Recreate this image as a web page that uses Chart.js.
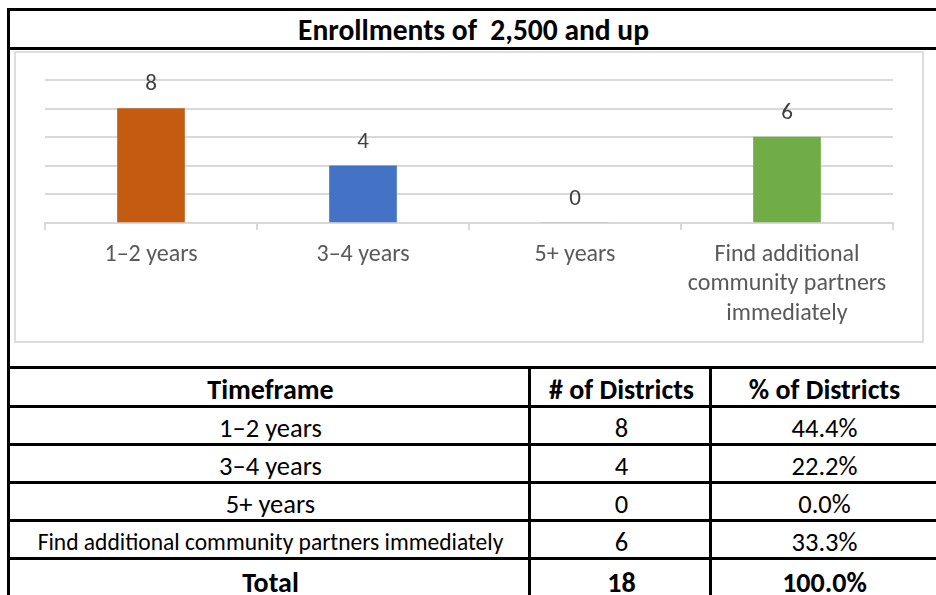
<!DOCTYPE html>
<html>
<head>
<meta charset="utf-8">
<script src="https://cdn.jsdelivr.net/npm/chart.js@4.4.0/dist/chart.umd.min.js"></script>
<style>
  body { margin: 0; width: 936px; height: 595px; overflow: hidden; background: #fff;
         font-family: Carlito, Calibri, Lato, sans-serif; }
  #frame { position: absolute; left: 7px; top: 8px; width: 927px; height: 600px;
           border-left: 3px solid #000; border-top: 3px solid #000; border-right: 3px solid #000; }
  #title { height: 36px; line-height: 38px; border-bottom: 3px solid #000; text-align: center;
           font-weight: bold; font-size: 29.5px; white-space: pre; }
  #chart-box { position: absolute; left: 14px; top: 51px; width: 906px; height: 288px;
               border: 2px solid #dedede; }
  .cell { position: absolute; box-sizing: border-box; border-top: 3px solid #000; border-left: 3px solid #000;
          display: flex; align-items: center; justify-content: center; font-size: 26.5px; color: #000;
          padding-top: 2px; white-space: nowrap; }
  .cell.last { border-right: 3px solid #000; }
  .bold { font-weight: bold; font-size: 28px; }
  .small { font-size: 23.5px; }
</style>
</head>
<body>
<div id="frame"><div id="title">Enrollments of  2,500 and up</div></div>
<div id="chart-box"><canvas id="chart" width="906" height="288"></canvas></div>
<div id="table"></div>
<script>
const categories = ["1–2 years", "3–4 years", "5+ years", "Find additional community partners immediately"];
const axisLabels = [["1–2 years"], ["3–4 years"], ["5+ years"], ["Find additional", "community partners", "immediately"]];
const districtCounts = [8, 4, 0, 6];
const districtPercents = ["44.4%", "22.2%", "0.0%", "33.3%"];
const totalCount = "18";
const totalPercent = "100.0%";
const barColors = ["#C55A11", "#4472C4", "#A5A5A5", "#70AD47"];
const headers = ["Timeframe", "# of Districts", "% of Districts"];

const fontStack = "Carlito, Calibri, Lato, sans-serif";

// value labels above the bars
const valueLabels = {
    id: 'valueLabels',
    afterDatasetsDraw(chart) {
        const ctx = chart.ctx;
        const meta = chart.getDatasetMeta(0);
        ctx.save();
        ctx.font = "23px " + fontStack;
        ctx.fillStyle = "#404040";
        ctx.textAlign = "center";
        ctx.textBaseline = "middle";
        meta.data.forEach((bar, i) => {
            ctx.fillText(districtCounts[i], bar.x, bar.y - 24);
        });
        ctx.restore();
    }
};

const chart = new Chart(document.getElementById('chart'), {
    type: 'bar',
    data: {
        labels: axisLabels,
        datasets: [{
            data: districtCounts,
            backgroundColor: barColors,
            barThickness: 67
        }]
    },
    options: {
        responsive: false,
        animation: false,
        layout: { padding: { left: 29, right: 29, top: 27, bottom: 0 } },
        scales: {
            x: {
                afterFit: (scale) => { scale.height = 118; },
                grid: { offset: true, drawOnChartArea: false, tickLength: 7, color: "#d9d9d9", lineWidth: 2 },
                border: { color: "#d9d9d9", width: 2 },
                ticks: { color: "#595959", padding: 10, font: { family: fontStack, size: 24, lineHeight: 1.23 }, maxRotation: 0, autoSkip: false }
            },
            y: {
                min: 0,
                max: 10,
                ticks: { stepSize: 2, display: false },
                grid: { color: "#d9d9d9", lineWidth: 2, drawTicks: false },
                border: { display: false }
            }
        },
        plugins: {
            legend: { display: false },
            tooltip: { enabled: false }
        }
    },
    plugins: [valueLabels]
});

// table under the chart
const table = document.getElementById('table');
const rowTops = [366, 405, 443, 481, 519, 557, 600];
const colLefts = [7, 528, 709, 940];

const rows = [headers.map(h => ({ text: h, cls: 'bold' }))];
categories.forEach((c, i) => {
    rows.push([
        { text: c, cls: c.length > 20 ? 'small' : '' },
        { text: String(districtCounts[i]), cls: '' },
        { text: districtPercents[i], cls: '' }
    ]);
});
rows.push([{ text: "Total", cls: 'bold' }, { text: totalCount, cls: 'bold' }, { text: totalPercent, cls: 'bold' }]);

rows.forEach((row, r) => {
    row.forEach((cell, c) => {
        const div = document.createElement('div');
        div.className = 'cell ' + cell.cls + (c === 2 ? ' last' : '');
        div.style.left = colLefts[c] + 'px';
        div.style.top = rowTops[r] + 'px';
        div.style.width = (colLefts[c + 1] - colLefts[c] + (c === 2 ? 0 : 3)) + 'px';
        div.style.height = (rowTops[r + 1] - rowTops[r] + 3) + 'px';
        div.textContent = cell.text;
        table.appendChild(div);
    });
});
</script>
</body>
</html>
